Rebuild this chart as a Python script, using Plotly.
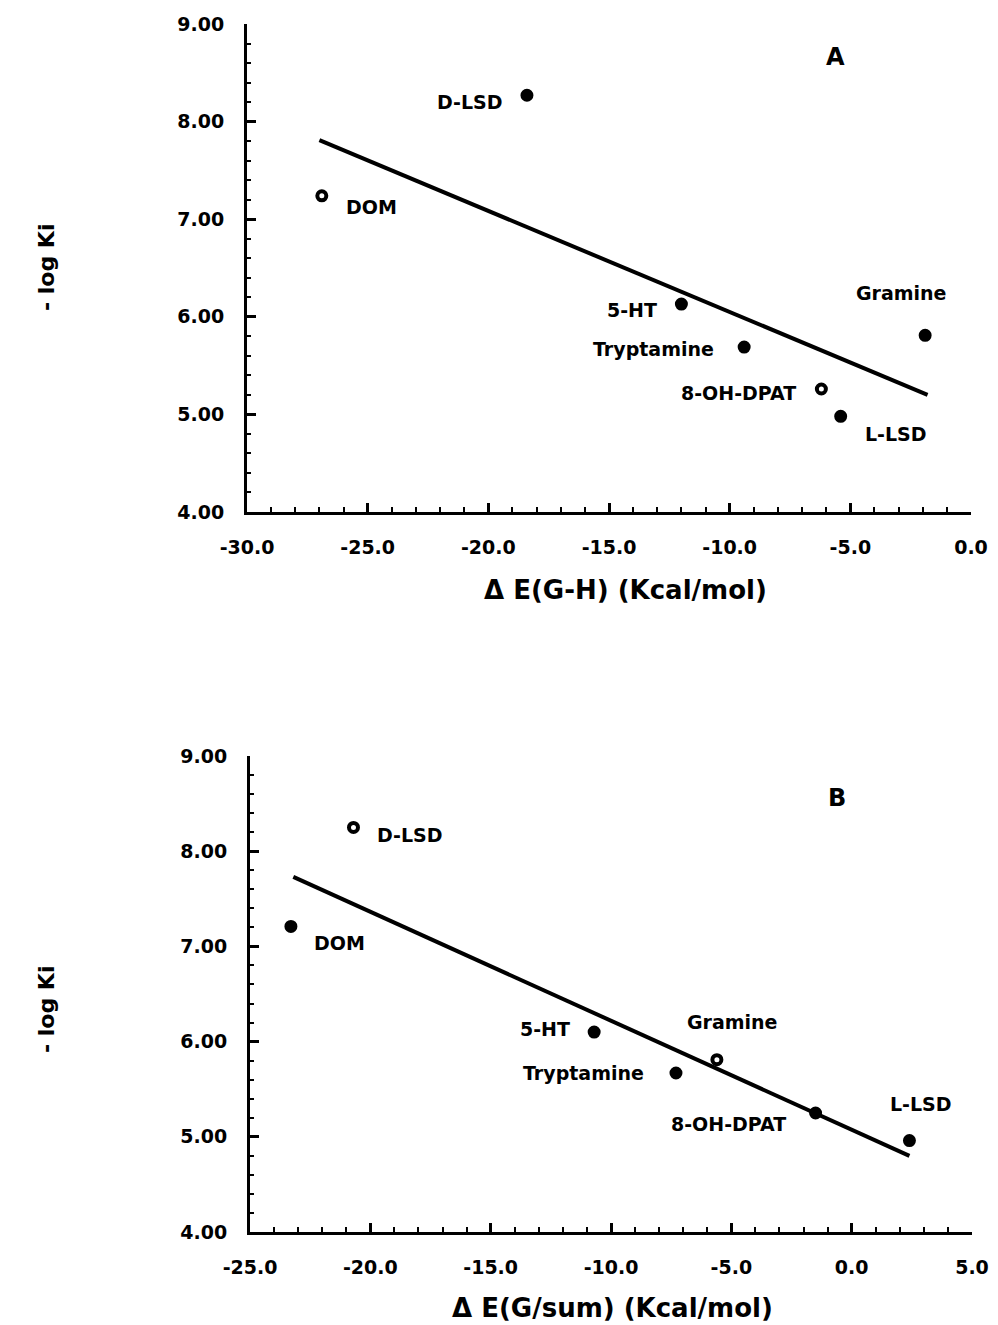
import plotly.graph_objects as go

# ---------------- data ----------------
compounds = ["D-LSD", "DOM", "5-HT", "Tryptamine", "8-OH-DPAT", "L-LSD", "Gramine"]

# Panel A: ΔE(G-H)
xA = [-18.4, -26.9, -12.0, -9.4, -6.2, -5.4, -1.9]
yA = [8.27, 7.24, 6.13, 5.69, 5.26, 4.98, 5.81]
fitA_x = [-27.0, -1.8]
fitA_y = [7.81, 5.20]

# Panel B: ΔE(G/sum)
xB = [-20.7, -23.3, -10.7, -7.3, -1.5, 2.4, -5.6]
yB = [8.25, 7.21, 6.10, 5.67, 5.25, 4.96, 5.81]
fitB_x = [-23.2, 2.4]
fitB_y = [7.73, 4.80]

openA = ["DOM", "8-OH-DPAT"]
openB = ["D-LSD", "Gramine"]

xticksA = [-30, -25, -20, -15, -10, -5, 0]
xticklabelsA = ["-30.0", "-25.0", "-20.0", "-15.0", "-10.0", "-5.0", "0.0"]
xticksB = [-25, -20, -15, -10, -5, 0, 5]
xticklabelsB = ["-25.0", "-20.0", "-15.0", "-10.0", "-5.0", "0.0", "5.0"]
yticks = [4, 5, 6, 7, 8, 9]
yticklabels = ["4.00", "5.00", "6.00", "7.00", "8.00", "9.00"]

x_title_A = "Δ E(G-H) (Kcal/mol)"
x_title_B = "Δ E(G/sum) (Kcal/mol)"
y_title = "- log Ki"

# ---------------- label placement (styling) ----------------
labA = {
    "D-LSD": dict(xanchor="right", xshift=-22, yshift=-7),
    "DOM": dict(xanchor="left", xshift=22, yshift=-11),
    "5-HT": dict(xanchor="right", xshift=-22, yshift=-6),
    "Tryptamine": dict(xanchor="right", xshift=-28, yshift=-2),
    "8-OH-DPAT": dict(xanchor="right", xshift=-23, yshift=-4),
    "L-LSD": dict(xanchor="left", xshift=22, yshift=-18),
    "Gramine": dict(xanchor="center", xshift=-24, yshift=42),
}
labB = {
    "D-LSD": dict(xanchor="left", xshift=22, yshift=-8),
    "DOM": dict(xanchor="left", xshift=21, yshift=-17),
    "5-HT": dict(xanchor="right", xshift=-22, yshift=3),
    "Tryptamine": dict(xanchor="right", xshift=-30, yshift=0),
    "8-OH-DPAT": dict(xanchor="right", xshift=-28, yshift=-11),
    "L-LSD": dict(xanchor="center", xshift=12, yshift=37),
    "Gramine": dict(xanchor="center", xshift=16, yshift=38),
}

FONT = "DejaVu Sans"
H = 1325.0
W = 998.0


def px(xp):
    return xp / W


def py(yp):
    return 1 - yp / H


fig = go.Figure()


def add_panel(xs, ys, fx, fy, opens, xa, ya):
    sym = ["circle-open" if c in opens else "circle" for c in compounds]
    fig.add_trace(go.Scatter(x=fx, y=fy, mode="lines", line=dict(color="black", width=4),
                             xaxis=xa, yaxis=ya, showlegend=False, hoverinfo="skip"))
    fig.add_trace(go.Scatter(x=xs, y=ys, mode="markers",
                             marker=dict(symbol=sym, size=9, color="black",
                                         line=dict(color="black", width=4)),
                             xaxis=xa, yaxis=ya, showlegend=False))


add_panel(xA, yA, fitA_x, fitA_y, openA, "x", "y")
add_panel(xB, yB, fitB_x, fitB_y, openB, "x2", "y2")

annos = []
for xs, ys, lab, xr, yr in [(xA, yA, labA, "x", "y"), (xB, yB, labB, "x2", "y2")]:
    for c, xv, yv in zip(compounds, xs, ys):
        p = lab[c]
        annos.append(dict(x=xv, y=yv, xref=xr, yref=yr, text=c, showarrow=False,
                          xanchor=p["xanchor"], yanchor="middle",
                          xshift=p["xshift"], yshift=p["yshift"],
                          font=dict(family=FONT, size=19, color="black", weight="bold")))

for txt, xp, yp in [("A", 835, 57), ("B", 837, 798)]:
    annos.append(dict(x=px(xp), y=py(yp), xref="paper", yref="paper", text=txt, showarrow=False,
                      xanchor="center", yanchor="middle",
                      font=dict(family=FONT, size=24, color="black", weight="bold")))

for yp in [268, 1010]:
    annos.append(dict(x=px(46), y=py(yp), xref="paper", yref="paper", text=y_title, showarrow=False,
                      textangle=-90, xanchor="center", yanchor="middle",
                      font=dict(family=FONT, size=22, color="black", weight="bold")))

for txt, xp, yp in [(x_title_A, 625, 590), (x_title_B, 612, 1308)]:
    annos.append(dict(x=px(xp), y=py(yp), xref="paper", yref="paper", text=txt, showarrow=False,
                      xanchor="center", yanchor="middle",
                      font=dict(family=FONT, size=26, color="black", weight="bold")))

tickfont = dict(family=FONT, size=19, color="black", weight="bold")


def xaxis_cfg(rng, dom, tv, tt, anchor):
    return dict(range=rng, domain=dom, tickmode="array", tickvals=tv, ticktext=tt, anchor=anchor,
                showline=True, linecolor="black", linewidth=3, ticks="inside",
                ticklen=9, tickwidth=2.5, tickcolor="black", showgrid=False, zeroline=False,
                tickfont=tickfont, ticklabelstandoff=16,
                minor=dict(dtick=1, tick0=0, ticks="inside", ticklen=5, tickwidth=2,
                           tickcolor="black", showgrid=False))


def yaxis_cfg(dom, anchor):
    return dict(range=[4, 9], domain=dom, tickmode="array", tickvals=yticks, ticktext=yticklabels,
                anchor=anchor,
                showline=True, linecolor="black", linewidth=3, ticks="inside",
                ticklen=9, tickwidth=2.5, tickcolor="black", showgrid=False, zeroline=False,
                tickfont=tickfont, ticklabelstandoff=16,
                minor=dict(dtick=0.2, tick0=0, ticks="inside", ticklen=4, tickwidth=2,
                           tickcolor="black", showgrid=False))


fig.update_layout(
    width=998, height=1325, margin=dict(l=0, r=0, t=0, b=0, autoexpand=False),
    paper_bgcolor="white", plot_bgcolor="white",
    xaxis=xaxis_cfg([-30, 0], [px(247), px(971)], xticksA, xticklabelsA, "y"),
    yaxis=yaxis_cfg([py(512), py(24)], "x"),
    xaxis2=xaxis_cfg([-25, 5], [px(250), px(972)], xticksB, xticklabelsB, "y2"),
    yaxis2=yaxis_cfg([py(1232), py(756)], "x2"),
    annotations=annos,
)

fig.write_html("out.html")
